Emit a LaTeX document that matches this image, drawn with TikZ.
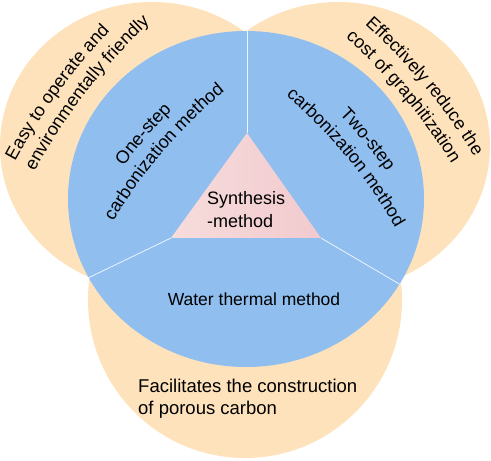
\documentclass[tikz,border=0pt]{standalone}
\usepackage{fontspec}
\setmainfont{Liberation Sans}
\usetikzlibrary{decorations.text}
\definecolor{orfill}{HTML}{FDE2BC}
\definecolor{blfill}{HTML}{8FBEEF}
\definecolor{pkl}{HTML}{F7DCDC}
\definecolor{pkr}{HTML}{F1CACE}
\tikzset{
  petal/.style={fill=orfill, draw=none},
  core/.style={fill=blfill, draw=none},
  divider/.style={draw=white!85!blfill, line width=0.8pt},
  lbl/.style={font=\fontsize{18}{22}\selectfont, inner sep=0pt, text=black},
  arctxt/.style 2 args={decorate, decoration={text along path, text align=#1,
      text={|\fontsize{18}{20}\selectfont|#2}}}
}
\begin{document}
\begin{tikzpicture}[x=1pt, y=1pt]
\useasboundingbox (0,0) rectangle (491,461);
% outer petals
\fill[petal] (152,315) ellipse [x radius=152pt, y radius=144pt];
\fill[petal] (338,315) ellipse [x radius=152pt, y radius=144pt];
\fill[petal] (245,161) ellipse [x radius=157pt, y radius=158pt];
% core
\fill[core] (246,262) ellipse [x radius=178pt, y radius=168pt];
% triangle
\coordinate (tA) at (247,328);
\coordinate (tL) at (171,223);
\coordinate (tR) at (321,223);
\coordinate (eTop) at (247,430);
\coordinate (eL) at (88,183);
\coordinate (eR) at (401,176);
\shade[left color=pkl, right color=pkr] (tA) -- (tL) -- (tR) -- cycle;
\draw[divider] (tA) -- (eTop);
\draw[divider] (tL) -- (eL);
\draw[divider] (tR) -- (eR);
% centre label
\node[lbl, anchor=base west] (syn1) at (207,256) {Synthesis};
\node[lbl, anchor=base west] (syn2) at (207,233) {-method};
% bottom labels
\node[lbl, font=\fontsize{17.5}{20}\selectfont, anchor=base] (water) at (254,155) {Water thermal method};
\node[lbl, font=\fontsize{18.5}{22}\selectfont, anchor=base west] (fac1) at (138,68) {Facilitates the construction};
\node[lbl, font=\fontsize{18.5}{22}\selectfont, anchor=base west] (fac2) at (138,46) {of porous carbon};
% left petal text
\path[arctxt={left}{Easy to operate and}]
  ([shift={(151.58:600pt)}]542.9,14.3) arc[start angle=151.58, end angle=110, radius=600pt];
\path[arctxt={left}{environmentally friendly}]
  ([shift={(151.58:578pt)}]542.9,14.3) arc[start angle=151.58, end angle=110, radius=578pt];
% right petal text
\path[arctxt={left}{Effectively reduce the}]
  ([shift={(47.78:600pt)}]-38.2,-7.6) arc[start angle=47.78, end angle=15, radius=600pt];
\path[arctxt={left}{cost of graphitization}]
  ([shift={(48.3:577pt)}]-38.2,-7.6) arc[start angle=48.3, end angle=15, radius=577pt];
% left core text
\path[arctxt={center}{One-step}]
  ([shift={(159.4:522pt)}]543,-15.8) arc[start angle=159.4, end angle=119.4, radius=522pt];
\path[arctxt={center}{carbonization method}]
  ([shift={(159.4:500pt)}]543,-15.8) arc[start angle=159.4, end angle=119.4, radius=500pt];
% right core text
\path[arctxt={center}{Two-step}]
  ([shift={(59.7:523pt)}]-38.3,-15.5) arc[start angle=59.7, end angle=19.7, radius=523pt];
\path[arctxt={center}{carbonization method}]
  ([shift={(59.7:500pt)}]-38.3,-15.5) arc[start angle=59.7, end angle=19.7, radius=500pt];
\end{tikzpicture}
\end{document}
